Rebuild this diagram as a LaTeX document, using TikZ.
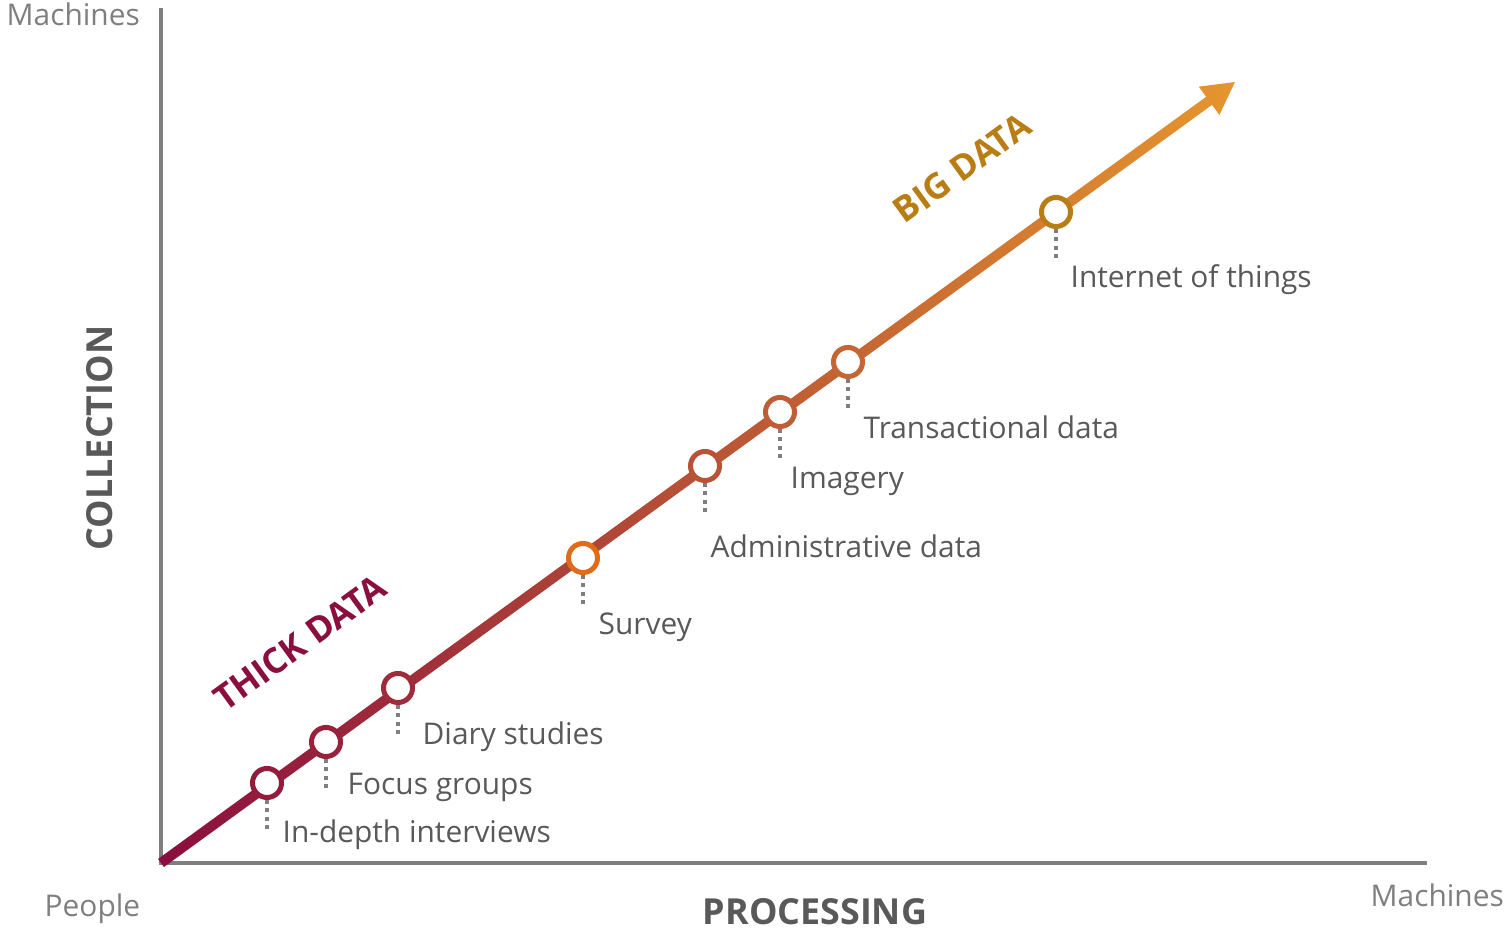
\documentclass[tikz,border=0pt]{standalone}
\usepackage{fontspec}
\setmainfont{Open Sans}
\usepackage{tikz}
\usetikzlibrary{calc, positioning}
\usepackage{xcolor}
\definecolor{thickred}{HTML}{8A0E3E}
\definecolor{bigorange}{HTML}{E5962E}
\definecolor{biggold}{HTML}{B97D15}
\definecolor{surveyorange}{HTML}{E06B1A}
\definecolor{axisgray}{HTML}{7F7F7F}
\definecolor{textgray}{HTML}{595959}
\tikzset{
  milestone/.style={circle, draw=#1, line width=0.05cm, fill=white, minimum size=0.29cm, inner sep=0pt},
  leader/.style={axisgray, line width=1pt, dash pattern=on 1.15pt off 1.2pt},
  lbl/.style={anchor=base west, inner sep=0pt, text=textgray, font=\fontsize{8.5}{10}\selectfont},
  corner/.style={anchor=base west, inner sep=0pt, text=axisgray, font=\fontsize{8.5}{10}\selectfont},
  axistitle/.style={inner sep=0pt, text=textgray, font=\bfseries\fontsize{10.2}{12}\selectfont},
  era/.style={inner sep=0pt, rotate=36, font=\bfseries\fontsize{10}{12}\selectfont}
}
\begin{document}
\begin{tikzpicture}[x=0.01cm, y=-0.01cm]
  \useasboundingbox (0,0) rectangle (1505,931);
  % axes
  \coordinate (top) at (161,8);
  \coordinate (O) at (161,863);
  \coordinate (right) at (1427,863);
  \draw [axisgray, line width=0.04cm] (top) -- (161,865);
  \draw [axisgray, line width=0.04cm] (159,863) -- (right);
  % trend arrow, thick data -> big data
  \coordinate (T) at (1235,82);
  \coordinate (B) at ($(T)!0.32cm!(O)$);
  \shade [left color=thickred, right color=bigorange]
    ($(O)!0.05cm!90:(T)$) -- ($(B)!0.05cm!90:(T)$) -- ($(B)!0.175cm!90:(T)$) -- (T)
    -- ($(B)!0.175cm!-90:(T)$) -- ($(B)!0.05cm!-90:(T)$) -- ($(O)!0.05cm!-90:(T)$) -- cycle;
  % milestones
  \node [milestone=thickred!90!bigorange] (interviews) at (267,783) {};
  \node [milestone=thickred!85!bigorange] (focus) at (326,742) {};
  \node [milestone=thickred!78!bigorange] (diary) at (398,688) {};
  \node [milestone=surveyorange] (survey) at (583,558) {};
  \node [milestone=thickred!49!bigorange] (admin) at (705,466) {};
  \node [milestone=thickred!42!bigorange] (imagery) at (780,412) {};
  \node [milestone=thickred!36!bigorange] (trans) at (848,362) {};
  \node [milestone=biggold] (iot) at (1056,212) {};
  \foreach \m in {interviews, focus, diary, survey, admin, imagery, trans, iot}
    \draw [leader] (\m.south) -- ++(0,32);
  % labels
  \node [lbl] (interviewslbl) at (282,843) {In-depth interviews};
  \node [lbl] (focuslbl) at (347,795) {Focus groups};
  \node [lbl] (diarylbl) at (422,745) {Diary studies};
  \node [lbl] (surveylbl) at (598,635) {Survey};
  \node [lbl] (adminlbl) at (710,558) {Administrative data};
  \node [lbl] (imagerylbl) at (790,489) {Imagery};
  \node [lbl] (translbl) at (863,439) {Transactional data};
  \node [lbl] (iotlbl) at (1070,288) {Internet of things};
  \node [era, text=thickred] (thick) at (300,643) {THICK DATA};
  \node [era, text=biggold] (big) at (962,168) {BIG DATA};
  % axis titles
  \node [axistitle, rotate=90] (collection) at (100,438) {COLLECTION};
  \node [axistitle, anchor=base] (processing) at (815,925) {PROCESSING};
  \node [corner] (ytop) at (6,26) {Machines};
  \node [corner] (origin) at (44,917) {People};
  \node [corner] (xright) at (1370,907) {Machines};
\end{tikzpicture}
\end{document}
